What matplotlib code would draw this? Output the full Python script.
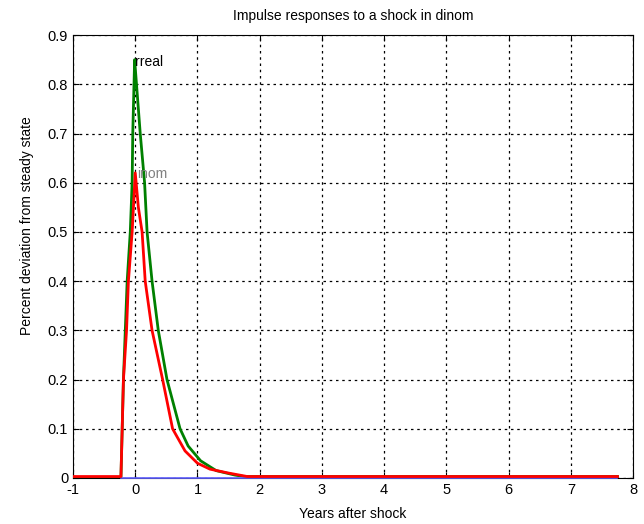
import matplotlib
matplotlib.use("Agg")
import matplotlib.pyplot as plt

plt.rcParams.update({"font.family": ["Liberation Sans", "DejaVu Sans"],
                     "font.size": 10,
                     "axes.unicode_minus": False})

# impulse responses (percent deviation from steady state), years after shock
years_rreal = [-1.0, -0.23, -0.21, -0.19, -0.16, -0.13, -0.08, -0.05, -0.04,
               -0.02, -0.01, 0.02, 0.08, 0.15, 0.19, 0.27, 0.37, 0.51, 0.72,
               0.85, 1.05, 1.3, 1.6, 1.75, 7.75]
rreal = [0.0, 0.0, 0.1, 0.2, 0.3, 0.4, 0.5, 0.6, 0.7,
         0.8, 0.85, 0.8, 0.7, 0.6, 0.5, 0.4, 0.3, 0.2, 0.1,
         0.065, 0.035, 0.015, 0.006, 0.003, 0.003]

years_inom = [-1.0, -0.23, -0.21, -0.19, -0.14, -0.11, -0.05, 0.0, 0.05,
              0.11, 0.16, 0.27, 0.44, 0.6, 0.8, 1.0, 1.2, 1.5, 1.8, 7.75]
inom = [0.003, 0.003, 0.1, 0.2, 0.3, 0.4, 0.5, 0.62, 0.55,
        0.5, 0.4, 0.3, 0.2, 0.1, 0.055, 0.03, 0.018, 0.01, 0.003, 0.003]

years_dinom = [-0.23, 7.75]
dinom = [0.0, 0.0]

fig = plt.figure(figsize=(6.44, 5.24), dpi=100)
ax = fig.add_axes([0.1134, 0.0878, 0.8696, 0.8452])

ax.plot(years_rreal, rreal, color="#008000", lw=2, zorder=3)
ax.plot(years_inom, inom, color="#ff0000", lw=2, zorder=4)
# shock path sits on the bottom spine, draw it above the frame
ax.plot(years_dinom, dinom, color="#6060ff", lw=1.2, zorder=3.5, clip_on=False)

ax.text(0, 0.845, "rreal", color="black", va="center", ha="left", fontsize=10)
ax.text(0.03, 0.617, "inom", color="#808080", va="center", ha="left", fontsize=10)

ax.set_xlim(-1, 8)
ax.set_ylim(0, 0.9)
ax.set_xticks(range(-1, 9))
ax.set_yticks([i / 10 for i in range(10)])
ax.set_yticklabels(["0"] + [f"{i / 10:.1f}" for i in range(1, 10)])
ax.grid(True, color="black", linestyle=(0, (2, 3)), lw=0.9)
ax.tick_params(direction="in", top=True, right=True, length=4, labelsize=10.5)
for s in ax.spines.values():
    s.set_linewidth(0.8)

ax.set_title("Impulse responses to a shock in dinom", fontsize=10, pad=11)
ax.set_xlabel("Years after shock", labelpad=7)
ax.set_ylabel("Percent deviation from steady state")
ax.yaxis.set_label_coords(-0.07, 0.569)

fig.savefig("out.png")
